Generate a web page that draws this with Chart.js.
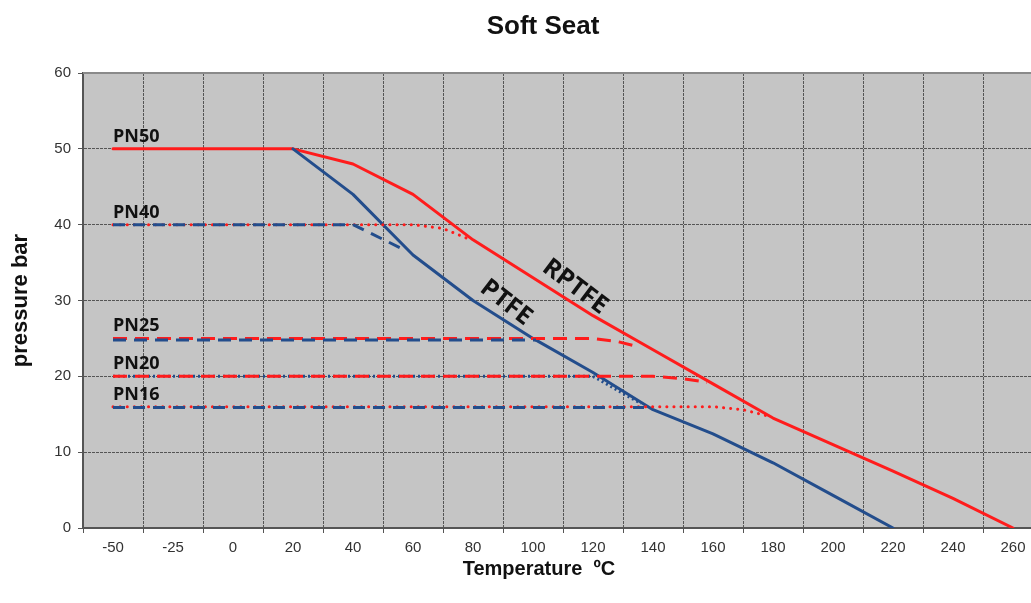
<!DOCTYPE html>
<html>
<head>
<meta charset="utf-8">
<script src="https://cdn.jsdelivr.net/npm/chart.js@4/dist/chart.umd.min.js"></script>
<style>
  html, body { margin: 0; padding: 0; background: #ffffff; overflow: hidden; }
  #wrap { width: 1086px; height: 603px; position: relative; }
</style>
</head>
<body>
<div id="wrap"><canvas id="c"></canvas></div>
<script>
// ---- data ----
const tickTemps  = [-50, -25, 0, 20, 40, 60, 80, 100, 120, 140, 160, 180, 200, 220, 240, 260];
const tickLabels = ['-50', '-25', '0', '20', '40', '60', '80', '100', '120', '140', '160', '180', '200', '220', '240', '260'];

const rptfeT = [-50, 20, 40, 60, 80, 100, 120, 140, 160, 180, 200, 220, 240, 260];
const rptfeP = [50, 50, 48, 44, 38, 33, 28, 23.5, 19, 14.5, 11, 7.5, 3.9, 0];
const ptfeT  = [20, 40, 60, 80, 100, 120, 140, 160, 180, 200, 220];
const ptfeP  = [50, 44, 36, 30, 25, 20.5, 15.6, 12.4, 8.6, 4.3, 0];

const pn40RedT  = [-50, 60, 70, 78];   const pn40RedP  = [40, 40, 39.5, 38.2];
const pn40BlueT = [-50, 40, 56];       const pn40BlueP = [40, 40, 36.9];
const pn25RedT  = [-50, 120, 128, 135];const pn25RedP  = [25, 25, 24.6, 23.9];
const pn25BlueT = [-50, 101];          const pn25BlueP = [24.8, 24.8];
const pn20RedT  = [-50, 140, 150, 158];const pn20RedP  = [20, 20, 19.7, 19.2];
const pn20BlueT = [-50, 120, 136];     const pn20BlueP = [20, 20, 16.4];
const pn16RedT  = [-50, 160, 170, 178];const pn16RedP  = [16, 16, 15.6, 14.8];
const pn16BlueT = [-50, 137];          const pn16BlueP = [15.9, 15.9];

const pnLabels = ['PN50', 'PN40', 'PN25', 'PN20', 'PN16'];
const pnValues = [50, 40, 25, 20, 16];
const curveLabels = ['RPTFE', 'PTFE'];
const curveLabelT = [114, 91];
const curveLabelP = [31.8, 29.7];

// temperature -> position on the (unevenly labelled) category axis
function toIdx(t) {
  for (let i = 0; i < tickTemps.length - 1; i++) {
    const a = tickTemps[i], b = tickTemps[i + 1];
    if (t >= a && t <= b) return i + (t - a) / (b - a);
  }
  return t < tickTemps[0] ? 0 : tickTemps.length - 1;
}
function pts(T, P) { return T.map((t, i) => ({ x: toIdx(t), y: P[i] })); }

const RED = '#ff1c1c';
const BLUE = '#234d8c';
const FONT = "'Liberation Sans', Arial, sans-serif";

function ds(label, T, P, color, dash, cap, width) {
  return {
    label, data: pts(T, P), xAxisID: 'xd', yAxisID: 'y',
    borderColor: color, borderWidth: width || 3, borderDash: dash || [],
    borderCapStyle: cap || 'butt', borderJoinStyle: 'round',
    pointRadius: 0, tension: 0, fill: false
  };
}

const datasets = [
  ds('PN25 PTFE',  pn25BlueT, pn25BlueP, BLUE, [13, 8]),
  ds('PN25 RPTFE', pn25RedT,  pn25RedP,  RED,  [14, 8]),
  ds('PN20 RPTFE', pn20RedT,  pn20RedP,  RED,  [14, 8]),
  ds('PN20 PTFE',  pn20BlueT, pn20BlueP, BLUE, [2, 3]),
  ds('PN40 PTFE',  pn40BlueT, pn40BlueP, BLUE, [12, 8]),
  ds('PN16 PTFE',  pn16BlueT, pn16BlueP, BLUE, [12, 8]),
  ds('PN40 RPTFE', pn40RedT,  pn40RedP,  RED,  [0.1, 7], 'round'),
  ds('PN16 RPTFE', pn16RedT,  pn16RedP,  RED,  [0.1, 7], 'round'),
  ds('PTFE',  ptfeT,  ptfeP,  BLUE, [], 'round'),
  ds('RPTFE', rptfeT, rptfeP, RED,  [], 'round')
];

const decor = {
  id: 'decor',
  beforeDraw(chart) {
    const { ctx, chartArea: a } = chart;
    ctx.save();
    ctx.fillStyle = '#c5c5c5';
    ctx.fillRect(a.left, a.top, a.right - a.left, a.bottom - a.top);
    ctx.restore();
  },
  afterDatasetsDraw(chart) {
    const { ctx, chartArea: a, scales } = chart;
    const xs = scales.xd, ys = scales.y;
    ctx.save();
    // top frame line
    ctx.strokeStyle = '#8a8a8a'; ctx.lineWidth = 2;
    ctx.beginPath(); ctx.moveTo(a.left, a.top); ctx.lineTo(a.right, a.top); ctx.stroke();
    // PN labels
    ctx.fillStyle = '#111';
    ctx.font = "bold 18px 'Open Sans', sans-serif";
    ctx.textAlign = 'left'; ctx.textBaseline = 'alphabetic';
    pnLabels.forEach((t, i) => {
      ctx.fillText(t, xs.getPixelForValue(toIdx(-50)), ys.getPixelForValue(pnValues[i]) - 7);
    });
    // curve labels
    const rot = [37, 38];
    const sizes = [25, 25];
    curveLabels.forEach((t, i) => {
      ctx.save();
      ctx.translate(xs.getPixelForValue(toIdx(curveLabelT[i])), ys.getPixelForValue(curveLabelP[i]));
      ctx.rotate(rot[i] * Math.PI / 180);
      ctx.font = "bold " + sizes[i] + "px 'Open Sans', sans-serif";
      ctx.textAlign = 'center'; ctx.textBaseline = 'middle';
      ctx.fillText(t, 0, 0);
      ctx.restore();
    });
    ctx.restore();
  },
  afterDraw(chart) {
    const { ctx } = chart;
    ctx.save();
    ctx.fillStyle = '#111';
    ctx.textAlign = 'center'; ctx.textBaseline = 'middle';
    ctx.font = 'bold 26px ' + FONT;
    ctx.fillText('Soft Seat', 543, 27);
    ctx.font = 'bold 20px ' + FONT;
    ctx.fillText('Temperature  \u00BAC', 539, 569);
    ctx.restore();
  }
};

new Chart(document.getElementById('c'), {
  type: 'line',
  data: { labels: tickLabels, datasets },
  plugins: [decor],
  options: {
    responsive: true,
    maintainAspectRatio: false,
    animation: false,
    events: [],
    layout: { padding: { top: 73, right: 43, left: 0, bottom: 0 } },
    plugins: { legend: { display: false }, tooltip: { enabled: false }, title: { display: false } },
    scales: {
      x: {
        type: 'category', position: 'bottom', offset: true,
        grid: { offset: true, color: '#555', lineWidth: 1, tickLength: 5, tickColor: '#555', drawOnChartArea: true },
        border: { display: true, color: '#555', width: 2, dash: [3, 1] },
        ticks: { color: '#333', font: { family: FONT, size: 15 }, padding: 6, maxRotation: 0, autoSkip: false },
        afterFit(s) { s.height = 75; }
      },
      xd: {
        type: 'linear', display: false, min: -0.5, max: 15.5, offset: false
      },
      y: {
        type: 'linear', position: 'left', min: 0, max: 60,
        grid: { color: '#555', lineWidth: 1, tickLength: 5, tickColor: '#555' },
        border: { display: true, color: '#555', width: 2, dash: [3, 1] },
        ticks: { stepSize: 10, color: '#333', font: { family: FONT, size: 15 }, padding: 7 },
        title: { display: true, text: 'pressure bar', color: '#111', font: { family: FONT, size: 22, weight: 'bold' }, padding: { top: 8, bottom: 0 } },
        afterFit(s) { s.width = 83; }
      }
    }
  }
});
</script>
</body>
</html>
